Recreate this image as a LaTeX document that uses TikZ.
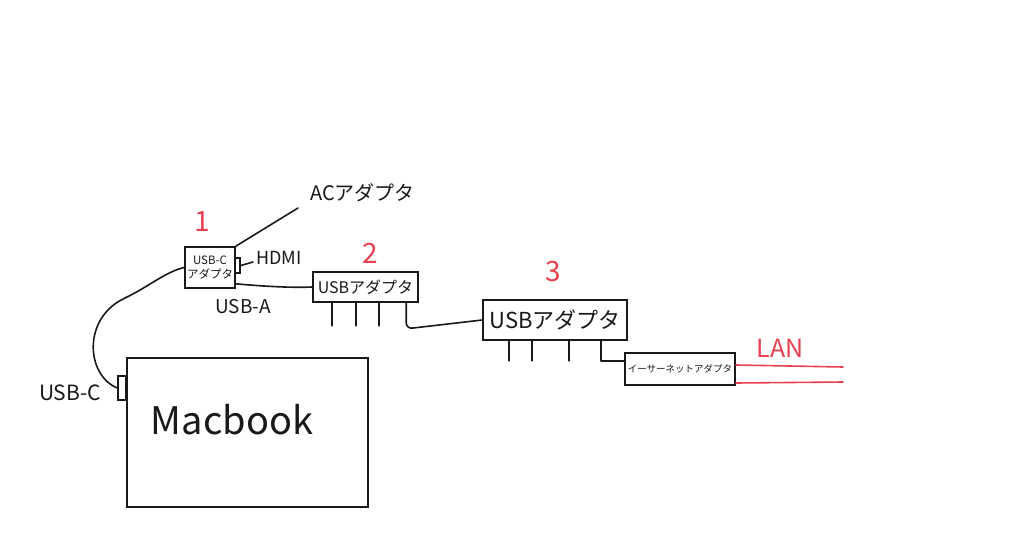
\documentclass[tikz,border=0pt]{standalone}
\usepackage{fontspec}
\setmainfont{Noto Sans CJK JP}
\definecolor{pen}{RGB}{232,64,80}
\definecolor{ink}{RGB}{25,25,25}
\begin{document}
\begin{tikzpicture}[x=1pt,y=-1pt,
  box/.style={draw=ink, line width=1.6pt, inner sep=0pt},
  wire/.style={draw=ink, line width=1.6pt, line cap=round, line join=round},
  redwire/.style={draw=pen, line width=1.6pt, line cap=round},
  lbl/.style={text=ink, inner sep=0pt},
  num/.style={text=pen, inner sep=0pt, font=\fontsize{28}{30}\selectfont}]
\fill[white] (0,0) rectangle (1024,536);
\useasboundingbox (0,0) rectangle (1024,536);

% Macbook
\node[box, minimum width=241pt, minimum height=149pt] (mac) at (247.5,432.5) {};
\node[lbl, font=\fontsize{38}{40}\selectfont] (mactext) at (232,420) {Macbook};
\node[box, minimum width=8pt, minimum height=24pt] (usbc) at (122,388) {};
\node[lbl, font=\fontsize{21}{22}\selectfont] (usbclbl) at (70,393) {USB-C};

% adapter 1
\node[box, minimum width=50pt, minimum height=41pt, align=center, text=ink,
      font=\fontsize{11.5}{14}\selectfont] (ad1) at (210,267.5) {USB-C\\アダプタ};
\node[box, minimum width=5pt, minimum height=15pt] (ad1p) at (237.5,265.5) {};
\node[num] (n1) at (202,222) {1};
\coordinate (acend) at (298,208);
\node[lbl, anchor=west, font=\fontsize{20}{22}\selectfont] (ac) at (310,193) {ACアダプタ};
\coordinate (hdmiend) at (253,262);
\node[lbl, anchor=west, font=\fontsize{18}{20}\selectfont] (hdmi) at (256,258) {HDMI};
\node[lbl, font=\fontsize{19}{20}\selectfont] (usba) at (243,307) {USB-A};

% adapter 2
\node[box, minimum width=105pt, minimum height=30pt, text=ink,
      font=\fontsize{16}{18}\selectfont] (ad2) at (365.5,287) {USBアダプタ};
\node[num] (n2) at (370,253) {2};

% adapter 3
\node[box, minimum width=144pt, minimum height=40pt, text=ink,
      font=\fontsize{22}{24}\selectfont] (ad3) at (555,320) {USBアダプタ};
\node[num] (n3) at (553,272) {3};

% ethernet adapter
\node[box, minimum width=110pt, minimum height=32pt, text=ink,
      font=\fontsize{9.5}{11}\selectfont] (eth) at (680,369) {イーサーネットアダプタ};
\coordinate (lan1) at (843,367);
\coordinate (lan2) at (843,382);
\node[text=pen, inner sep=0pt, font=\fontsize{25}{27}\selectfont] (lan) at (780,348) {LAN};

% connectors
\draw[wire] (usbc.west) .. controls (86,375) and (82,318) .. (125,298)
            .. controls (150,286) and (165,272) .. (ad1.west);
\draw[wire] (ad1.north east) -- (acend);
\draw[wire] (ad1p.east) -- (hdmiend);
\draw[wire] ([yshift=5pt]ad1.south east) .. controls (260,286) and (290,288) .. (ad2.west);

\foreach \dx in {20,44,67}
  \draw[wire] ([xshift=\dx pt]ad2.south west) -- ++(0,23);
\draw[wire, rounded corners=6pt] ([xshift=94pt]ad2.south west) -- ++(0,26) -- (ad3.west);

\foreach \dx in {27,50,87}
  \draw[wire] ([xshift=\dx pt]ad3.south west) -- ++(0,20);
\draw[wire] ([xshift=119pt]ad3.south west) |- ([yshift=8pt]eth.west);

\draw[redwire] ([yshift=4pt]eth.east) -- (lan1);
\draw[redwire] ([yshift=-14pt]eth.east) -- (lan2);
\end{tikzpicture}
\end{document}
